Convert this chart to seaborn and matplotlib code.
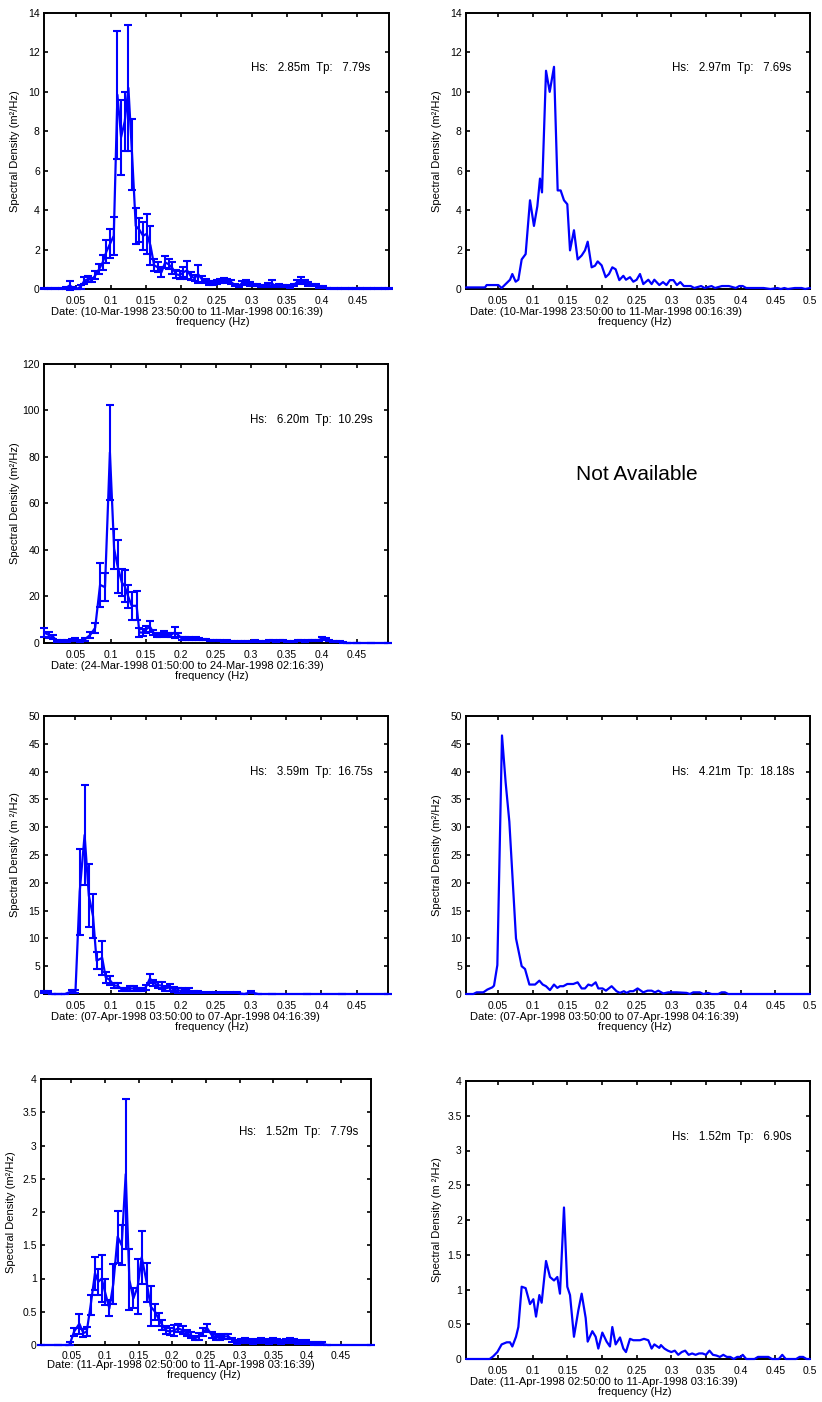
import matplotlib
matplotlib.use("Agg")
import numpy as np
import pandas as pd
import matplotlib.pyplot as plt
import seaborn as sns

# ---------------- data ----------------
# Row 1 left: 10-Mar-1998 (with error bars)
f1 = [0.0052,0.0104,0.0156,0.0208,0.0260,0.0313,0.0365,0.0417,0.0469,0.0521,
      0.0573,0.0625,0.0677,0.0729,0.0781,0.0833,0.0885,0.0938,0.0990,0.1042,
      0.1094,0.1146,0.1198,0.1250,0.1302,0.1354,0.1406,0.1458,0.1510,0.1563,
      0.1615,0.1667,0.1719,0.1771,0.1823,0.1875,0.1927,0.1979,0.2031,0.2083,
      0.2135,0.2188,0.2240,0.2292,0.2344,0.2396,0.2448,0.2500,0.2552,0.2604,
      0.2656,0.2708,0.2760,0.2813,0.2865,0.2917,0.2969,0.3021,0.3073,0.3125,
      0.3177,0.3229,0.3281,0.3333,0.3385,0.3438,0.3490,0.3542,0.3594,0.3646,
      0.3698,0.3750,0.3802,0.3854,0.3906,0.3958,0.4010,0.4063,0.4115,0.4167,
      0.4219,0.4271,0.4323,0.4375,0.4427,0.4479,0.4531,0.4583,0.4635,0.4688,
      0.4740,0.4792,0.4844,0.4896,0.4948]
s1 = [0.03,0.03,0.03,0.03,0.03,0.04,0.06,0.18,0.05,0.01,
      0.12,0.42,0.50,0.45,0.70,1.00,1.35,1.90,2.30,2.70,
      9.85,7.70,8.50,10.20,6.80,3.20,3.00,2.70,2.80,2.20,
      1.20,1.10,0.85,1.35,1.25,1.05,0.75,0.70,0.85,0.95,
      0.65,0.55,0.75,0.50,0.40,0.30,0.30,0.35,0.40,0.45,
      0.40,0.35,0.20,0.15,0.30,0.35,0.25,0.20,0.20,0.15,
      0.15,0.20,0.30,0.15,0.20,0.15,0.15,0.10,0.20,0.35,
      0.45,0.35,0.25,0.20,0.20,0.10,0.10,0.05,0.03,0.02,
      0.02,0.02,0.02,0.03,0.03,0.03,0.03,0.02,0.02,0.02,
      0.03,0.03,0.03,0.03,0.03]
e1 = [0.02,0.02,0.02,0.02,0.02,0.03,0.05,0.22,0.04,0.01,
      0.10,0.18,0.15,0.12,0.20,0.25,0.40,0.60,0.75,0.95,
      3.25,1.90,1.50,3.20,1.80,0.90,0.60,0.70,1.00,1.00,
      0.30,0.25,0.25,0.30,0.25,0.30,0.20,0.20,0.25,0.45,
      0.20,0.15,0.45,0.15,0.12,0.10,0.10,0.10,0.12,0.12,
      0.10,0.10,0.06,0.05,0.10,0.10,0.08,0.06,0.06,0.05,
      0.05,0.08,0.15,0.05,0.06,0.05,0.05,0.04,0.06,0.12,
      0.15,0.10,0.08,0.06,0.06,0.04,0.04,0.02,0.02,0.01,
      0.01,0.01,0.01,0.01,0.01,0.01,0.01,0.01,0.01,0.01,
      0.01,0.01,0.01,0.01,0.01]

# Row 1 right: 10-Mar-1998
f2 = [0.0039,0.0313,0.0337,0.0505,0.0553,0.0674,0.0707,0.0755,0.0794,0.0842,
      0.0899,0.0962,0.1019,0.1068,0.1106,0.1135,0.1193,0.1246,0.1308,0.1361,
      0.1404,0.1452,0.1500,0.1539,0.1596,0.1649,0.1707,0.1755,0.1794,0.1851,
      0.1899,0.1938,0.1995,0.2053,0.2101,0.2149,0.2197,0.2250,0.2308,0.2346,
      0.2404,0.2452,0.2500,0.2548,0.2596,0.2668,0.2716,0.2755,0.2827,0.2880,
      0.2930,0.2980,0.3030,0.3080,0.3130,0.3180,0.3230,0.3280,0.3330,0.3380,
      0.3430,0.3480,0.3530,0.3580,0.3630,0.3680,0.3730,0.3780,0.3830,0.3880,
      0.3930,0.3980,0.4030,0.4080,0.4130,0.4230,0.4330,0.4430,0.4530,0.4580,
      0.4630,0.4680,0.4780,0.4880,0.4930,0.5000]
s2 = [0.08,0.08,0.20,0.20,0.05,0.47,0.76,0.37,0.47,1.50,
      1.77,4.50,3.20,4.20,5.60,4.90,11.07,10.00,11.27,5.00,
      5.00,4.50,4.30,1.96,2.98,1.50,1.70,1.96,2.40,1.10,
      1.18,1.40,1.20,0.60,0.76,1.10,1.00,0.45,0.67,0.47,
      0.60,0.37,0.47,0.76,0.25,0.47,0.25,0.47,0.20,0.35,
      0.20,0.45,0.45,0.20,0.35,0.15,0.15,0.15,0.05,0.10,
      0.15,0.05,0.10,0.15,0.05,0.10,0.15,0.15,0.15,0.10,
      0.05,0.15,0.15,0.05,0.05,0.05,0.05,0.00,0.05,0.00,
      0.05,0.00,0.05,0.05,0.00,0.05]

# Row 2 left: 24-Mar-1998 (with error bars)
f3 = [0.0052,0.0119,0.0184,0.0236,0.031,0.038,0.045,0.050,0.056,0.063,
      0.071,0.078,0.085,0.092,0.099,0.105,0.110,0.116,0.120,0.125,
      0.130,0.137,0.141,0.146,0.151,0.156,0.161,0.166,0.171,0.176,
      0.181,0.186,0.191,0.196,0.201,0.206,0.211,0.216,0.221,0.226,
      0.231,0.236,0.241,0.246,0.251,0.256,0.261,0.266,0.271,0.276,
      0.281,0.286,0.291,0.296,0.301,0.306,0.311,0.316,0.321,0.326,
      0.331,0.336,0.341,0.346,0.351,0.356,0.361,0.366,0.371,0.376,
      0.381,0.386,0.391,0.396,0.401,0.406,0.411,0.416,0.421,0.426,
      0.431,0.436,0.450,0.470,0.4948]
s3 = [4.5,3.5,2.6,0.8,0.8,0.8,1.3,1.5,0.8,1.5,
      3.5,6.5,25.0,24.0,82.0,40.5,33.0,26.0,24.5,20.0,
      16.0,16.0,4.5,4.5,6.0,7.0,4.5,3.5,3.5,4.0,
      3.5,3.5,4.5,3.5,2.0,2.0,2.0,1.8,2.0,1.8,
      1.5,1.5,1.2,1.2,1.0,1.0,0.8,1.0,0.8,0.8,
      0.5,0.5,0.8,0.8,0.8,1.0,0.8,0.5,0.8,1.0,
      1.0,0.8,1.0,1.0,0.8,0.6,0.8,1.0,1.0,0.8,
      1.0,1.0,1.0,1.2,2.0,1.8,1.0,0.6,0.5,0.5,
      0.3,0.0,0.0,0.0,0.0]
e3 = [1.8,1.2,0.8,0.3,0.3,0.3,0.5,0.5,0.3,0.8,
      1.2,2.0,9.4,6.0,20.4,8.5,11.5,6.0,7.0,5.0,
      6.0,6.3,2.0,1.5,1.5,2.3,1.2,1.0,1.0,1.0,
      1.0,1.0,2.3,1.0,0.5,0.5,0.5,0.5,0.5,0.5,
      0.4,0.4,0.3,0.3,0.3,0.3,0.2,0.3,0.2,0.2,
      0.2,0.2,0.2,0.2,0.2,0.3,0.2,0.2,0.2,0.3,
      0.3,0.2,0.3,0.3,0.2,0.2,0.2,0.3,0.3,0.2,
      0.3,0.3,0.3,0.3,0.5,0.5,0.3,0.2,0.2,0.2,
      0.1,0.0,0.0,0.0,0.0]

# Row 3 left: 07-Apr-1998 (with error bars)
f4 = [0.0059,0.011,0.016,0.025,0.035,0.045,0.050,0.056,0.063,0.069,
      0.075,0.080,0.088,0.093,0.099,0.105,0.110,0.116,0.122,0.127,
      0.133,0.139,0.144,0.150,0.156,0.161,0.167,0.173,0.178,0.184,
      0.190,0.196,0.201,0.207,0.212,0.218,0.224,0.229,0.240,0.250,
      0.260,0.270,0.280,0.290,0.300,0.310,0.330,0.380,0.430,0.4948]
s4 = [0.4,0.4,0.0,0.0,0.0,0.5,0.5,18.4,28.6,17.7,
      14.0,6.0,6.5,3.0,2.5,1.5,1.5,0.8,0.8,1.0,
      1.0,0.8,0.8,1.2,2.8,2.0,1.6,1.5,1.0,1.2,
      0.8,0.6,0.6,0.5,0.6,0.4,0.3,0.2,0.2,0.2,
      0.2,0.2,0.2,0.0,0.3,0.0,0.0,0.0,0.0,0.0]
e4 = [0.2,0.2,0.0,0.0,0.0,0.3,0.3,7.7,9.0,5.6,
      4.0,1.5,3.0,1.0,0.8,0.5,0.5,0.3,0.3,0.4,
      0.4,0.3,0.3,0.4,0.8,0.6,0.6,0.6,0.4,0.6,
      0.4,0.4,0.4,0.3,0.4,0.2,0.2,0.1,0.1,0.1,
      0.1,0.1,0.1,0.0,0.2,0.0,0.0,0.0,0.0,0.0]

# Row 3 right: 07-Apr-1998
f5 = [0.0039,0.0145,0.0193,0.0289,0.0347,0.0419,0.0443,0.0491,0.0558,0.0611,
      0.0664,0.0760,0.0842,0.0890,0.0953,0.1035,0.1097,0.1145,0.1193,0.1250,
      0.1308,0.1356,0.1394,0.1442,0.1500,0.1587,0.1649,0.1707,0.1755,0.1803,
      0.1851,0.1909,0.1947,0.2009,0.2057,0.2139,0.2210,0.2259,0.2316,0.2355,
      0.2403,0.2451,0.2514,0.2595,0.2658,0.2716,0.2764,0.2812,0.2884,0.2956,
      0.3076,0.3220,0.3268,0.3316,0.3412,0.3460,0.3532,0.3581,0.3677,0.3725,
      0.3773,0.3821,0.4200,0.4600,0.5000]
s5 = [0.0,0.0,0.3,0.3,0.8,1.2,1.5,5.2,46.5,38.0,
      31.0,10.0,5.0,4.5,1.7,1.7,2.4,1.7,1.4,0.7,
      1.7,1.1,1.4,1.4,1.8,1.8,2.1,1.0,1.0,1.7,
      1.5,2.1,1.0,1.0,0.6,1.4,0.5,0.2,0.5,0.2,
      0.5,0.5,1.0,0.3,0.6,0.6,0.3,0.6,0.1,0.3,
      0.3,0.2,0.0,0.3,0.3,0.0,0.2,0.0,0.0,0.3,
      0.3,0.0,0.0,0.0,0.0]

# Row 4 left: 11-Apr-1998 (with error bars)
f6 = [0.0052,0.0300,0.0460,0.0482,0.0542,0.0621,0.0680,0.0730,0.0789,0.0853,
      0.0902,0.0952,0.1001,0.1066,0.1125,0.1189,0.1249,0.1309,0.1363,0.1422,
      0.1487,0.1546,0.1620,0.1679,0.1744,0.1803,0.1852,0.1907,0.1966,0.2026,
      0.2090,0.2154,0.2214,0.2273,0.2337,0.2397,0.2460,0.2520,0.2584,0.2649,
      0.2708,0.2767,0.2832,0.2891,0.2955,0.3020,0.3080,0.3140,0.3200,0.3260,
      0.3320,0.3380,0.3440,0.3500,0.3560,0.3620,0.3680,0.3740,0.3800,0.3860,
      0.3920,0.3980,0.4040,0.4100,0.4160,0.4220,0.4300,0.4948]
s6 = [0.0,0.0,0.0,0.02,0.20,0.32,0.18,0.20,0.60,1.08,
      0.95,1.00,0.80,0.55,0.92,1.63,1.50,2.57,0.98,0.70,
      0.88,1.32,0.94,0.58,0.50,0.38,0.30,0.22,0.20,0.22,
      0.25,0.22,0.18,0.15,0.10,0.13,0.20,0.25,0.15,0.12,
      0.10,0.13,0.13,0.08,0.05,0.06,0.07,0.06,0.05,0.06,
      0.07,0.06,0.05,0.07,0.06,0.05,0.06,0.07,0.06,0.05,
      0.04,0.05,0.03,0.02,0.02,0.02,0.0,0.0]
e6 = [0.0,0.0,0.0,0.02,0.06,0.15,0.06,0.07,0.15,0.25,
      0.20,0.35,0.20,0.12,0.30,0.39,0.30,1.13,0.46,0.15,
      0.42,0.40,0.30,0.30,0.12,0.10,0.08,0.06,0.05,0.08,
      0.06,0.06,0.04,0.05,0.03,0.05,0.06,0.06,0.05,0.04,
      0.03,0.04,0.04,0.03,0.03,0.03,0.03,0.03,0.03,0.03,
      0.03,0.03,0.03,0.03,0.03,0.03,0.03,0.03,0.03,0.03,
      0.02,0.02,0.02,0.02,0.02,0.02,0.0,0.0]

# Row 4 right: 11-Apr-1998
f7 = [0.0039,0.0380,0.0433,0.0491,0.0553,0.0626,0.0674,0.0707,0.0760,0.0794,
      0.0842,0.0899,0.0962,0.1010,0.1049,0.1097,0.1130,0.1193,0.1250,0.1308,
      0.1356,0.1394,0.1452,0.1500,0.1539,0.1596,0.1659,0.1707,0.1765,0.1794,
      0.1861,0.1909,0.1947,0.2005,0.2067,0.2115,0.2149,0.2197,0.2260,0.2308,
      0.2346,0.2404,0.2452,0.2548,0.2606,0.2668,0.2716,0.2755,0.2827,0.2850,
      0.2900,0.2950,0.3000,0.3050,0.3100,0.3150,0.3200,0.3250,0.3300,0.3350,
      0.3400,0.3450,0.3500,0.3550,0.3600,0.3650,0.3700,0.3750,0.3800,0.3850,
      0.3900,0.3950,0.4000,0.4030,0.4080,0.4200,0.4250,0.4300,0.4400,0.4450,
      0.4550,0.4600,0.4650,0.4800,0.4850,0.4900,0.4950,0.5000]
s7 = [0.0,0.0,0.04,0.10,0.21,0.24,0.24,0.18,0.32,0.46,
      1.04,1.02,0.79,0.86,0.61,0.92,0.81,1.41,1.18,1.13,
      1.18,0.94,2.18,1.04,0.92,0.32,0.70,0.94,0.59,0.25,
      0.40,0.32,0.15,0.38,0.25,0.18,0.46,0.21,0.31,0.15,
      0.10,0.29,0.27,0.27,0.29,0.27,0.15,0.21,0.16,0.20,
      0.15,0.12,0.10,0.12,0.06,0.10,0.12,0.06,0.08,0.06,
      0.08,0.08,0.06,0.12,0.06,0.05,0.03,0.06,0.03,0.03,
      0.00,0.03,0.03,0.06,0.00,0.00,0.03,0.03,0.03,0.00,
      0.00,0.06,0.00,0.00,0.03,0.03,0.00,0.00]

xticks_left = [0.05, 0.1, 0.15, 0.2, 0.25, 0.3, 0.35, 0.4, 0.45]
xticks_right = [0.05, 0.1, 0.15, 0.2, 0.25, 0.3, 0.35, 0.4, 0.45, 0.5]
yticks_14 = [0, 2, 4, 6, 8, 10, 12, 14]
yticks_120 = [0, 20, 40, 60, 80, 100, 120]
yticks_50 = [0, 5, 10, 15, 20, 25, 30, 35, 40, 45, 50]
yticks_4 = [0, 0.5, 1, 1.5, 2, 2.5, 3, 3.5, 4]

hs_texts = ["Hs:   2.85m  Tp:   7.79s", "Hs:   2.97m  Tp:   7.69s",
            "Hs:   6.20m  Tp:  10.29s",
            "Hs:   3.59m  Tp:  16.75s", "Hs:   4.21m  Tp:  18.18s",
            "Hs:   1.52m  Tp:   7.79s", "Hs:   1.52m  Tp:   6.90s"]
dates = ["Date: (10-Mar-1998 23:50:00 to 11-Mar-1998 00:16:39)",
         "Date: (24-Mar-1998 01:50:00 to 24-Mar-1998 02:16:39)",
         "Date: (07-Apr-1998 03:50:00 to 07-Apr-1998 04:16:39)",
         "Date: (11-Apr-1998 02:50:00 to 11-Apr-1998 03:16:39)"]
ylab_a = "Spectral Density (m\u00b2/Hz)"
ylab_b = "Spectral Density (m \u00b2/Hz)"

# ---------------- style ----------------
sns.set_theme(style="ticks")
plt.rcParams['font.family'] = ['Liberation Sans', 'DejaVu Sans']
plt.rcParams['axes.linewidth'] = 1.4
plt.rcParams['axes.edgecolor'] = 'black'

BLUE = '#0000ff'
W, H = 822, 1402
fig = plt.figure(figsize=(W / 100, H / 100), dpi=100)
fig.patch.set_facecolor('white')


def axes_px(x0, x1, y0, y1):
    return fig.add_axes([x0 / W, 1 - y1 / H, (x1 - x0) / W, (y1 - y0) / H])


def panel(ax, f, s, e, xlim, ylim, xt, yt, hs, date, ylab,
          date_dx, freq_dx, tick_off, date_off, freq_off, ylab_off):
    df = pd.DataFrame({'freq': f, 'dens': s})
    if e is not None:
        ax.errorbar(f, s, yerr=e, fmt='none', ecolor=BLUE, elinewidth=1.5,
                    capsize=3, capthick=1.5, clip_on=False, zorder=3)
    sns.lineplot(data=df, x='freq', y='dens', ax=ax, color=BLUE, lw=1.6,
                 clip_on=False, zorder=4)
    ax.set_xlim(*xlim)
    ax.set_ylim(*ylim)
    ax.set_xticks(xt)
    ax.set_yticks(yt)
    ax.set_xticklabels(['%g' % v for v in xt])
    ax.set_yticklabels(['%g' % v for v in yt])
    ax.set_xlabel('')
    ax.set_ylabel('')
    ax.tick_params(direction='in', top=True, right=True, length=3, width=1.2,
                   labelsize=7.5, colors='black')
    ax.tick_params(axis='x', pad=tick_off)
    ax.tick_params(axis='y', pad=3)
    for sp in ax.spines.values():
        sp.set_linewidth(1.4)
        sp.set_color('black')
        sp.set_visible(True)
    ax.text(0.6, 0.8, hs, transform=ax.transAxes, ha='left', va='center',
            fontsize=8.3, color='black')
    ax.annotate(date, xy=(0, 0), xycoords='axes fraction',
                xytext=(date_dx, -date_off), textcoords='offset pixels',
                ha='left', va='center', fontsize=8, color='black',
                annotation_clip=False)
    ax.annotate('frequency (Hz)', xy=(0.5, 0), xycoords='axes fraction',
                xytext=(freq_dx, -freq_off), textcoords='offset pixels',
                ha='center', va='center', fontsize=8, color='black',
                annotation_clip=False)
    ax.annotate(ylab, xy=(0, 0.5), xycoords='axes fraction',
                xytext=(-ylab_off, 0), textcoords='offset pixels',
                ha='center', va='center', rotation=90, fontsize=8,
                color='black', annotation_clip=False)


xl_left = (0.0052, 0.4948)
xl_right = (0.0039, 0.5)

ax1 = axes_px(44, 389, 13, 289)
panel(ax1, f1, s1, e1, xl_left, (0, 14), xticks_left, yticks_14, hs_texts[0],
      dates[0], ylab_a, 6.7, -4, 5, 22.7, 32.7, 29)
ax2 = axes_px(466, 810, 13, 289)
panel(ax2, f2, s2, None, xl_right, (0, 14), xticks_right, yticks_14, hs_texts[1],
      dates[0], ylab_a, 4, -3, 5, 22.7, 32.7, 29)
ax3 = axes_px(44, 388, 364, 643)
panel(ax3, f3, s3, e3, xl_left, (0, 120), xticks_left, yticks_120, hs_texts[2],
      dates[1], ylab_a, 6.7, -4, 5, 22.7, 32.7, 29)
ax4 = axes_px(44, 388, 716, 994)
panel(ax4, f4, s4, e4, xl_left, (0, 50), xticks_left, yticks_50, hs_texts[3],
      dates[2], ylab_b, 6.7, -4, 5, 22.7, 32.7, 29)
ax5 = axes_px(466, 810, 716, 994)
panel(ax5, f5, s5, None, xl_right, (0, 50), xticks_right, yticks_50, hs_texts[4],
      dates[2], ylab_a, 4, -3, 5, 22.7, 32.7, 29)
ax6 = axes_px(41, 371, 1079, 1345)
panel(ax6, f6, s6, e6, xl_left, (0, 4), xticks_left, yticks_4, hs_texts[5],
      dates[3], ylab_a, 5.7, -2, 4.3, 20, 30, 30)
ax7 = axes_px(466, 810, 1081, 1359)
panel(ax7, f7, s7, None, xl_right, (0, 4), xticks_right, yticks_4, hs_texts[6],
      dates[3], ylab_b, 4, -3, 5, 22.7, 32.7, 29)

fig.text(637 / W, 1 - 474 / H, 'Not Available', ha='center', va='center',
         fontsize=15, color='black')

fig.savefig('out.png', dpi=100, facecolor='white')
